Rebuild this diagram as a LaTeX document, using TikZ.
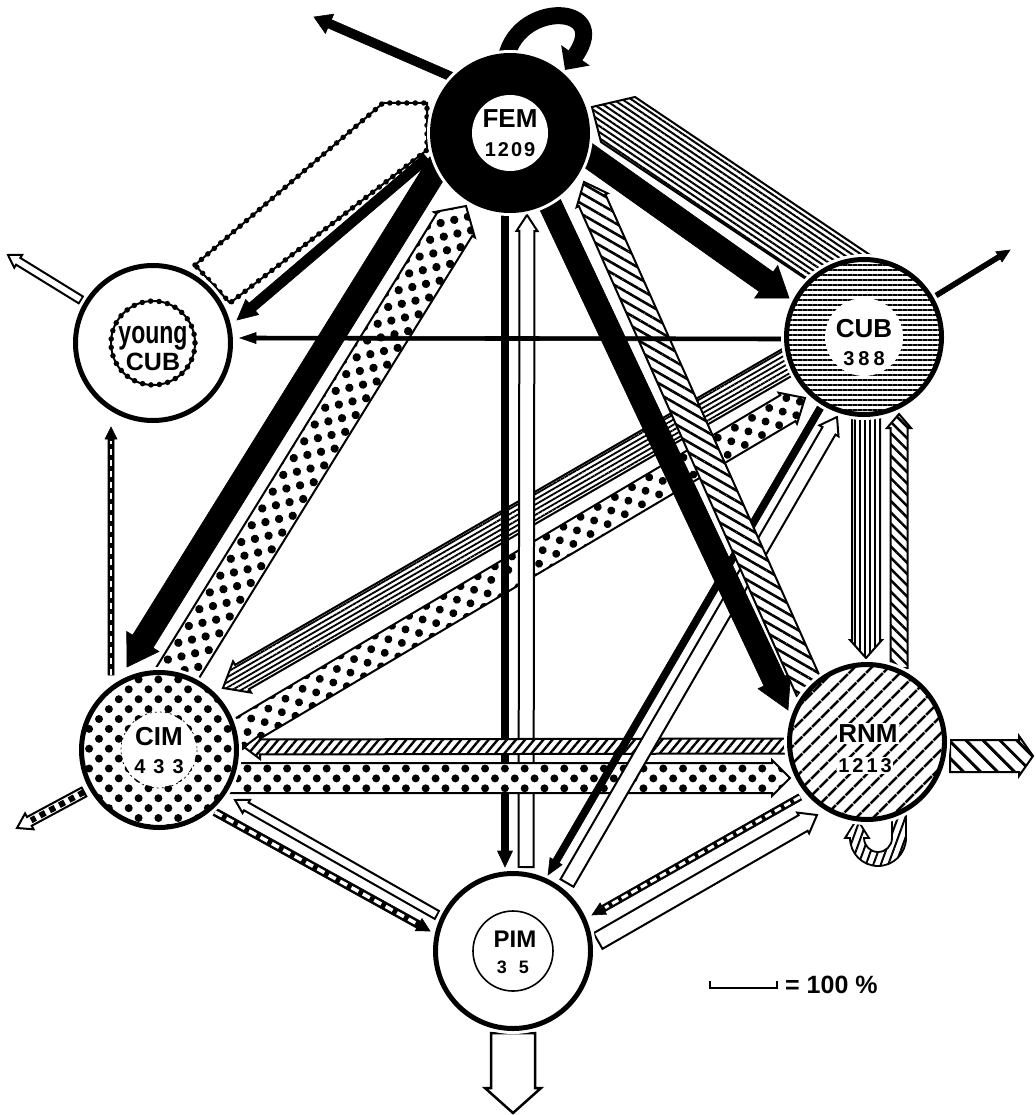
\documentclass[tikz,border=0pt]{standalone}
\usepackage{fontspec}
\setmainfont{Liberation Sans}
\newfontfamily\narrowfont[FakeStretch=0.72]{Liberation Sans}
\usetikzlibrary{calc,patterns.meta,arrows.meta}
\pgfdeclarelayer{flows}
\pgfsetlayers{flows,main}

% A straight flow band from node #2 (offset #3) to node #4 (offset #5):
% band width #6, head width #7, head length #8 (all in pt).
\newcommand\flowarrow[8][]{%
  \path ($(#2.center)+#3$) coordinate (fl-a) ($(#4.center)+#5$) coordinate (fl-b);
  \path ($(fl-b)!#8pt!(fl-a)$) coordinate (fl-c);
  \draw[line join=miter,#1]
    ($(fl-a)!#6pt/2!90:(fl-b)$) -- ($(fl-c)!#6pt/2!90:(fl-b)$) --
    ($(fl-c)!#7pt/2!90:(fl-b)$) -- (fl-b) --
    ($(fl-c)!#7pt/2!-90:(fl-b)$) -- ($(fl-c)!#6pt/2!-90:(fl-b)$) --
    ($(fl-a)!#6pt/2!-90:(fl-b)$) -- cycle;
}
% white dashes along the shaft of the last flow
\newcommand\innerdashes[2]{%
  \draw[white, line width=#1pt, dash pattern=#2] (fl-a) -- ($(fl-c)!2pt!(fl-a)$);
}

\tikzset{
  stock/.style={circle, minimum size=155pt, inner sep=0pt, line width=5pt, draw=black,
    preaction={fill=white, draw=white, line width=11pt}},
  stocklabel/.style={font=\fontsize{26}{26}\selectfont\bfseries, inner sep=0pt, anchor=base},
  stocknum/.style={font=\fontsize{20}{20}\selectfont\bfseries, inner sep=0pt, anchor=base},
  solidflow/.style={fill=black, draw=black, line width=0.6pt},
  hollowflow/.style={fill=white, draw=black, line width=2pt},
  fillflow/.style={preaction={fill=white}, draw=black, line width=2pt},
  sawband/.style={fill=white, draw=black, line width=2pt,
    postaction={draw, fill=none, line width=5.5pt, line cap=round, dash pattern=on 0pt off 8.5pt}},
}

\begin{document}
\begin{tikzpicture}[x=1pt, y=-1pt]
\useasboundingbox (0,0) rectangle (1035,1115);

% ---------------- compartments ----------------
\node[stock, fill=black] (FEM) at (510,133) {};
\fill[white] (FEM.center) circle (38);
\node[stocklabel] (FEM-name) at ($(FEM.center)+(0,-5)$) {FEM};
\node[stocknum] (FEM-num) at ($(FEM.center)+(0,24)$) {1\hspace{2pt}2\hspace{2pt}0\hspace{2pt}9};

\node[stock] (yCUB) at (153,343) {};
\draw[sawband, fill=none] (yCUB.center) circle (42);
\node[stocklabel, font=\narrowfont\fontsize{32}{32}\selectfont\bfseries] (yCUB-name1) at ($(yCUB.center)+(0,0)$) {young};
\node[stocklabel, font=\fontsize{25}{25}\selectfont\bfseries] (yCUB-name2) at ($(yCUB.center)+(0,27)$) {CUB};

\node[stock, pattern={Lines[angle=0,distance=5pt,line width=2.2pt]}] (CUB) at (864,337) {};
\fill[white] (CUB.center) circle (39);
\node[stocklabel] (CUB-name) at ($(CUB.center)+(0,0)$) {CUB};
\node[stocknum] (CUB-num) at ($(CUB.center)+(0,28)$) {3\hspace{4pt}8\hspace{4pt}8};

\node[stock, pattern={Dots[radius=4pt,distance=14pt,angle=45]}] (CIM) at (159,750) {};
\fill[white] (CIM.center) circle (37);
\draw[line width=0.7pt, dash pattern=on 2pt off 3pt] (CIM.center) circle (38);
\node[stocklabel] (CIM-name) at ($(CIM.center)+(0,-5)$) {CIM};
\node[stocknum] (CIM-num) at ($(CIM.center)+(0,23)$) {4\hspace{8pt}3\hspace{8pt}3};

\node[stock, pattern={Lines[angle=45,distance=13pt,line width=3pt]}] (RNM) at (867,742) {};
\node[stocklabel, fill=white, inner sep=1.5pt] (RNM-name) at ($(RNM.center)+(1,0)$) {RNM};
\node[stocknum, fill=white, inner sep=1.5pt] (RNM-num) at ($(RNM.center)+(-2,30)$) {1\hspace{3pt}2\hspace{3pt}1\hspace{3pt}3};

\node[stock] (PIM) at (513,951) {};
\draw[line width=1.6pt] (PIM.center) circle (40);
\node[stocklabel, font=\fontsize{24}{24}\selectfont\bfseries] (PIM-name) at ($(PIM.center)+(2,-4)$) {PIM};
\node[stocknum, font=\fontsize{18}{18}\selectfont\bfseries] (PIM-num) at ($(PIM.center)+(0,22)$) {3\hspace{12pt}5};

% ---------------- flows ----------------
\begin{pgfonlayer}{flows}
\fill[white] (0,0) rectangle (1035,1115);

% CUB <-> CIM
\flowarrow[fillflow, pattern={Lines[angle=30,distance=4.5pt,line width=1.8pt]}]{CUB}{(-64,18)}{CIM}{(64,-62)}{28}{36}{22}
\flowarrow[fillflow, pattern={Dots[radius=4pt,distance=14pt,angle=75]}]{CIM}{(76,-14)}{CUB}{(-59,61)}{30}{36}{20}

% FEM <-> PIM
\flowarrow[solidflow]{FEM}{(-5,75)}{PIM}{(-8,-84)}{7}{15}{16}
\flowarrow[hollowflow]{PIM}{(13,-84)}{FEM}{(17,82)}{15}{21}{16}

% RNM <-> CIM
\flowarrow[fillflow, pattern={Lines[angle=50,distance=7pt,line width=2.4pt]}]{RNM}{(-80,4)}{CIM}{(85,-3)}{15}{24}{16}
\flowarrow[fillflow, pattern={Dots[radius=4pt,distance=14pt,angle=45]}]{CIM}{(70,28)}{RNM}{(-77,36)}{30}{36}{18}

% CUB <-> PIM
\flowarrow[solidflow]{CUB}{(-42,68)}{PIM}{(35,-76)}{7}{14}{16}
\flowarrow[hollowflow]{PIM}{(54,-68)}{CUB}{(-27,80)}{15}{22}{16}

% PIM <-> RNM
\flowarrow[hollowflow]{PIM}{(85,-10)}{RNM}{(-50,73)}{18}{24}{16}
\flowarrow[solidflow]{RNM}{(-67,55)}{PIM}{(79,-36)}{7}{13}{13}
\innerdashes{3}{on 7pt off 4pt}

% CIM <-> PIM
\flowarrow[solidflow]{CIM}{(56,62)}{PIM}{(-83,-20)}{8}{14}{13}
\innerdashes{3.5}{on 8pt off 5pt}
\flowarrow[hollowflow]{PIM}{(-76,-36)}{CIM}{(76,50)}{9}{15}{13}

% FEM <-> CIM
\flowarrow[solidflow]{FEM}{(-70,30)}{CIM}{(-32,-83)}{24}{38}{30}
\flowarrow[fillflow, pattern={Dots[radius=4.2pt,distance=14pt,angle=103]}]{CIM}{(8,-60)}{FEM}{(-44,73)}{42}{48}{22}

% FEM <-> RNM
\flowarrow[solidflow]{FEM}{(38,67)}{RNM}{(-79,-32)}{23}{36}{32}
\flowarrow[fillflow, pattern={Lines[angle=-30,distance=9pt,line width=2.6pt]}]{RNM}{(-57,-52)}{FEM}{(74,49)}{29}{34}{20}

% FEM <-> CUB
\flowarrow[solidflow]{FEM}{(72,18)}{CUB}{(-75,-39)}{24}{40}{28}
\draw[fillflow, line join=miter, pattern={Lines[angle=-34,distance=5pt,line width=2pt]}]
  ($(CUB.center)+(12,-78)$) -- ($(FEM.center)+(125,-36)$) -- ($(FEM.center)+(82,-26)$)
  -- ($(FEM.center)+(91,9)$) -- ($(CUB.center)+(-52,-54)$) -- cycle;

% young CUB <-> FEM
\draw[sawband, line join=miter] ($(yCUB.center)+(42,-78)$) -- ($(FEM.center)+(-127,-30)$)
  -- ($(FEM.center)+(-83,-30)$) -- ($(FEM.center)+(-83,17)$) -- ($(yCUB.center)+(77,-40)$) -- cycle;
\flowarrow[solidflow]{FEM}{(-83,25)}{yCUB}{(84,-23)}{10}{20}{20}

% CUB -> young CUB
\flowarrow[solidflow]{CUB}{(-78,2)}{yCUB}{(87,-5)}{4}{11}{16}

% CIM -> young CUB
\flowarrow[solidflow]{CIM}{(-48,-75)}{yCUB}{(-42,84)}{6}{12}{12}
\innerdashes{1.4}{on 6pt off 5pt}

% CUB <-> RNM
\flowarrow[fillflow, pattern={Lines[angle=90,distance=5pt,line width=2pt]}]{CUB}{(2,75)}{RNM}{(-1,-84)}{28}{32}{18}
\flowarrow[fillflow, pattern={Lines[angle=-45,distance=8pt,line width=2.5pt]}]{RNM}{(32,-74)}{CUB}{(35,77)}{17}{24}{14}

% flows leaving the system
\flowarrow[hollowflow]{yCUB}{(-72,-43)}{yCUB}{(-145,-88)}{8}{15}{12}
\flowarrow[solidflow]{FEM}{(-58,-56)}{FEM}{(-196,-116)}{9}{21}{17}
\flowarrow[solidflow]{CUB}{(68,-39)}{CUB}{(146,-87)}{5}{12}{13}
\flowarrow[fillflow, pattern={Lines[angle=-45,distance=12pt,line width=3pt]}]{RNM}{(83,14)}{RNM}{(166,14)}{32}{40}{14}
\flowarrow[hollowflow]{CIM}{(-75,42)}{CIM}{(-142,78)}{10}{18}{14}
\draw[line width=6pt, dash pattern=on 6pt off 5pt] (fl-a) -- ($(fl-c)!2pt!(fl-a)$);
\flowarrow[hollowflow, line width=2.5pt]{PIM}{(0,82)}{PIM}{(0,162)}{44}{56}{25}

% returns to the same compartment
\draw[line width=17pt, -{Triangle[length=18pt,width=34pt]}]
  ($(FEM.center)+(-5,-63)$) .. controls ($(FEM.center)+(-5,-133)$) and ($(FEM.center)+(105,-133)$) .. ($(FEM.center)+(55,-63)$);
\draw[fillflow, line width=1.8pt, line join=miter, pattern={Lines[angle=70,distance=7pt,line width=2pt]}]
  ($(RNM.center)+(39,70)$) -- ($(RNM.center)+(39,96)$) arc[start angle=0,end angle=180,radius=28]
  -- ++(-5,0) -- ++(12,-19) -- ++(12,19) -- ++(-5,0) arc[start angle=180,end angle=0,radius=14]
  -- ++(0,-26) -- cycle;
\end{pgfonlayer}

% ---------------- scale ----------------
\draw[line width=2.5pt] (710,981) -- (710,988) -- (777,988) -- (777,981);
\node[font=\fontsize{25}{25}\selectfont\bfseries, anchor=base west, inner sep=0pt] (legend) at (785,993) {= 100 \%};
\end{tikzpicture}
\end{document}
